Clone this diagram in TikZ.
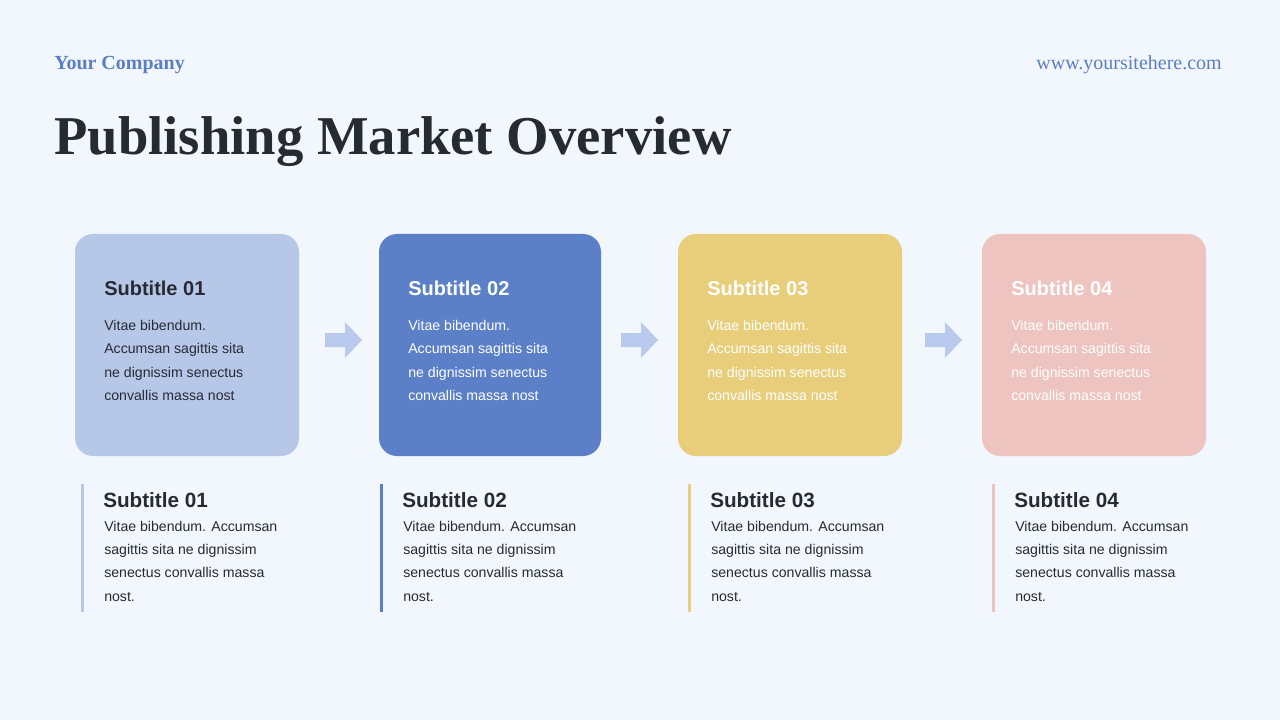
\documentclass[tikz,border=0pt]{standalone}
\usepackage{fontspec}
\setmainfont{Liberation Sans}
\newfontfamily\serifx{Liberation Serif}
\definecolor{bg}{HTML}{F2F6FD}
\definecolor{cA}{HTML}{B7C7E8}
\definecolor{cB}{HTML}{5B80C8}
\definecolor{cC}{HTML}{E8CE7A}
\definecolor{cD}{HTML}{EDC4C0}
\definecolor{arr}{HTML}{B9CAEE}
\definecolor{dark}{HTML}{262A33}
\definecolor{head}{HTML}{5B7FC6}
\begin{document}
\begin{tikzpicture}[x=0.75pt,y=-0.75pt,
 card/.style={rounded corners=13.5pt},
 ctitle/.style={anchor=west,font=\bfseries\fontsize{15}{18}\selectfont,inner sep=0},
 cbody/.style={anchor=north west,align=left,font=\fontsize{10.6}{17.6}\selectfont,inner sep=0},
 btitle/.style={anchor=west,font=\bfseries\fontsize{15.5}{18}\selectfont,inner sep=0,text=dark},
 bbody/.style={anchor=north west,align=left,font=\fontsize{10.6}{17.4}\selectfont,inner sep=0,text=dark}]
\fill[bg] (0,0) rectangle (1280,720);
\node[anchor=west,text=head,font=\serifx\bfseries\fontsize{15}{18}\selectfont,inner sep=0] (co) at (54,65) {Your Company};
\node[anchor=east,text=head,font=\serifx\fontsize{15}{18}\selectfont,inner sep=0] (web) at (1222,65) {www.yoursitehere.com};
\node[anchor=west,text=dark,font=\serifx\bfseries\fontsize{41}{48}\selectfont,inner sep=0] (ttl) at (54,142) {Publishing Market Overview};
\foreach \i/\x/\w/\c/\t in {1/75/224/cA/dark,2/379/222/cB/white,3/678/224/cC/white,4/982/224/cD/white}{
 \fill[\c,card] (\x,234) rectangle ++(\w,222);
 \node[ctitle,text=\t] (s\i) at (\x+29,288) {Subtitle 0\i};
 \node[cbody,text=\t] (b\i) at (\x+29,320) {Vitae bibendum.\\Accumsan sagittis sita\\ne dignissim senectus\\convallis massa nost};
}
\foreach \x in {325,621,925}{
 \fill[arr] (\x,333) -- (\x+20,333) -- (\x+20,322) -- (\x+37,340) -- (\x+20,358) -- (\x+20,347) -- (\x,347) -- cycle;
}
\foreach \i/\x/\c in {1/81/cA,2/380/cB,3/688/cC,4/992/cD}{
 \fill[\c] (\x,484) rectangle ++(3,128);
 \node[btitle] (t\i) at (\x+22,500) {Subtitle 0\i};
 \node[bbody] (p\i) at (\x+23,521) {Vitae bibendum. Accumsan\\sagittis sita ne dignissim\\senectus convallis massa\\nost.};
}
\end{tikzpicture}
\end{document}
